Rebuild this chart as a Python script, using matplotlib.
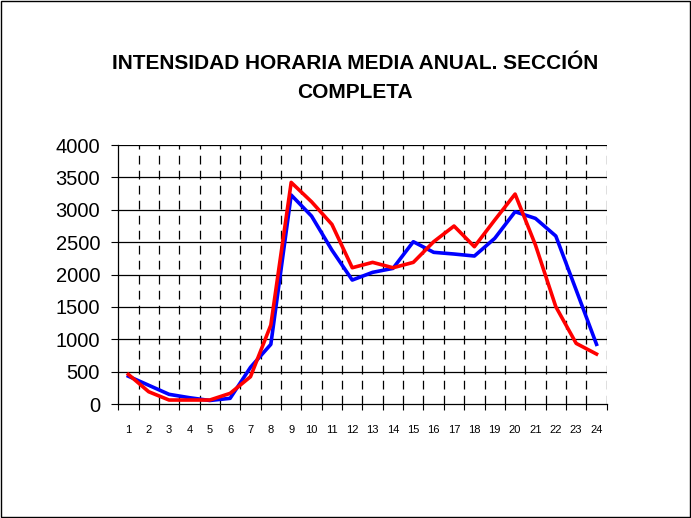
import numpy as np
import matplotlib.pyplot as plt

plt.rcParams['font.family'] = ['Liberation Sans', 'DejaVu Sans']

# horas del dia
horas = list(range(1, 25))

# serie azul
serie_azul = [430, 290, 150, 98, 55, 88, 567, 922, 3228, 2903, 2378, 1915,
              2034, 2095, 2507, 2343, 2317, 2286, 2559, 2970, 2867, 2595, 1761, 922]
# serie roja
serie_roja = [458, 190, 62, 62, 62, 165, 422, 1220, 3423, 3124, 2775, 2105,
              2188, 2105, 2188, 2507, 2749, 2430, 2842, 3243, 2456, 1503, 937, 772]

y_ticks = [0, 500, 1000, 1500, 2000, 2500, 3000, 3500, 4000]

fig = plt.figure(figsize=(6.91, 5.18), dpi=100)
fig.patches.append(plt.Rectangle((0.001, 0.001), 0.997, 0.997, transform=fig.transFigure,
                                 fill=False, edgecolor='black', linewidth=1))
ax = fig.add_axes([0.171, 0.220, 0.707, 0.500])

x = np.arange(len(horas))
ax.plot(x, serie_azul, color='#0000ff', linewidth=2.6)
ax.plot(x, serie_roja, color='#ff0000', linewidth=2.6)

ax.set_xlim(-0.5, len(horas) - 0.5)
ax.set_ylim(0, 4000)
ax.set_yticks(y_ticks)
ax.set_yticklabels([str(v) for v in y_ticks], fontsize=14.5)

# ticks between categories, labels centred
ax.set_xticks(np.arange(len(horas) + 1) - 0.5)
ax.set_xticklabels([])
ax.set_xticks(x, minor=True)
ax.set_xticklabels([str(h) for h in horas], minor=True, fontsize=8)
ax.tick_params(axis='x', which='minor', length=0, pad=15)
ax.tick_params(axis='x', which='major', length=4, width=0.8)
ax.tick_params(axis='y', length=5, width=0.8, pad=8)

for v in y_ticks[1:]:
    ax.axhline(v, color='black', linewidth=0.9, zorder=0)
for b in np.arange(1, len(horas) + 1) - 0.5:
    ax.axvline(b, color='black', linewidth=0.9, linestyle=(0, (7, 5)), zorder=0)

for s in ['top', 'right']:
    ax.spines[s].set_visible(False)
ax.spines['left'].set_linewidth(0.9)
ax.spines['bottom'].set_linewidth(0.9)

fig.text(0.514, 0.850, 'INTENSIDAD HORARIA MEDIA ANUAL. SECCIÓN\nCOMPLETA',
         ha='center', va='center', fontsize=15, fontweight='bold', linespacing=1.65)

fig.savefig('out.png', dpi=100)
